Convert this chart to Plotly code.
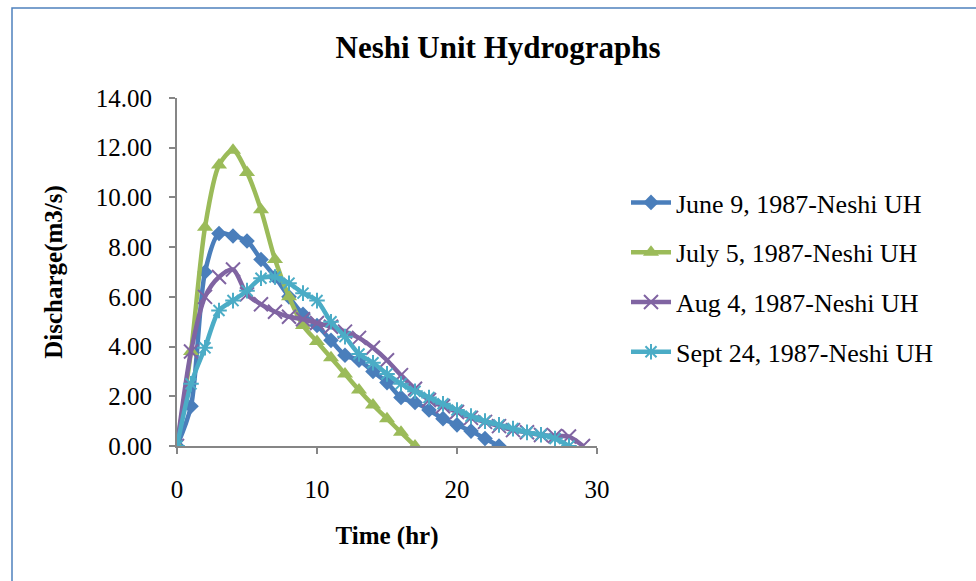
import plotly.graph_objects as go

# ---- data ----
title_text = "Neshi Unit Hydrographs"
x_title = "Time (hr)"
y_title = "Discharge(m3/s)"

names = ["June 9, 1987-Neshi UH", "July 5, 1987-Neshi UH",
         "Aug 4, 1987-Neshi UH", "Sept 24, 1987-Neshi UH"]

june_t = list(range(0, 24))
june_q = [0, 1.6, 7.0, 8.55, 8.45, 8.25, 7.5, 6.8, 6.0, 5.3, 4.85, 4.25, 3.65,
          3.45, 3.0, 2.55, 1.95, 1.75, 1.45, 1.1, 0.85, 0.6, 0.3, 0]

july_t = list(range(0, 18))
july_q = [0, 3.8, 8.8, 11.3, 11.9, 11.0, 9.5, 7.5, 6.0, 4.85, 4.2, 3.55, 2.9,
          2.25, 1.65, 1.1, 0.55, 0]

aug_t = list(range(0, 30))
aug_q = [0, 3.8, 6.0, 6.8, 7.1, 6.1, 5.7, 5.4, 5.2, 5.1, 4.95, 4.8, 4.6, 4.35,
         3.95, 3.45, 2.85, 2.3, 1.85, 1.6, 1.37, 1.13, 0.97, 0.8, 0.64, 0.55,
         0.44, 0.4, 0.38, 0]

sept_t = list(range(0, 29))
sept_q = [0, 2.5, 3.95, 5.45, 5.85, 6.25, 6.75, 6.8, 6.55, 6.15, 5.85, 5.0,
          4.4, 3.7, 3.35, 2.9, 2.5, 2.2, 1.95, 1.7, 1.45, 1.2, 1.0, 0.85, 0.7,
          0.55, 0.45, 0.3, 0]

y_ticks = [0, 2, 4, 6, 8, 10, 12, 14]
x_ticks = [0, 10, 20, 30]

colors = ["#4A7EBB", "#9BBB59", "#8064A2", "#4BACC6"]
symbols = ["diamond", "triangle-up", "x-thin-open", "asterisk-open"]
msizes = [12, 14, 14, 13]

series = [(june_t, june_q), (july_t, july_q), (aug_t, aug_q), (sept_t, sept_q)]

FONT = "Liberation Serif, Times New Roman, serif"

fig = go.Figure()
for i, ((t, q), name) in enumerate(zip(series, names)):
    mline = dict(width=2, color=colors[i]) if "open" in symbols[i] else dict(width=0)
    fig.add_trace(go.Scatter(
        x=t, y=q, name=name, mode="lines+markers",
        line=dict(color=colors[i], width=4.5, shape="spline", smoothing=0.8),
        marker=dict(symbol=symbols[i], size=msizes[i], color=colors[i], line=mline),
        legendgroup=f"g{i}",
    ))

W, H = 976, 581
L, R, T, B = 177, 379, 98, 135
pw, ph = W - L - R, H - T - B

def px_x(px):
    return (px - L) / pw

def px_y(py):
    return (H - B - py) / ph

fig.update_layout(
    width=W, height=H,
    margin=dict(l=L, r=R, t=T, b=B),
    paper_bgcolor="white", plot_bgcolor="white",
    font=dict(family=FONT, color="black", size=24),
    title=dict(text=f"<b>{title_text}</b>", xref="container", x=498 / W,
               xanchor="center", y=1 - 47 / H, yanchor="middle",
               font=dict(family=FONT, size=31, color="black")),
    xaxis=dict(range=[0, 30], tickvals=x_ticks, showgrid=False, zeroline=False,
               showline=True, linecolor="#868686", linewidth=2,
               ticks="outside", ticklen=6, tickcolor="#868686", tickwidth=2,
               tickfont=dict(size=25), ticklabelstandoff=14,
               title=dict(text=f"<b>{x_title}</b>", font=dict(size=25), standoff=24)),
    yaxis=dict(range=[0, 14], tickvals=y_ticks, tickformat=".2f", showgrid=False,
               zeroline=False, showline=True, linecolor="#868686", linewidth=2,
               ticks="outside", ticklen=6, tickcolor="#868686", tickwidth=2,
               tickfont=dict(size=25), ticklabelstandoff=12,
               title=dict(text=f"<b>{y_title}</b>", font=dict(size=25), standoff=26)),
    legend=dict(x=px_x(626), xanchor="left", y=px_y(179), yanchor="top",
                font=dict(size=26, family=FONT), tracegroupgap=13,
                traceorder="grouped", bgcolor="rgba(0,0,0,0)", itemwidth=40),
    showlegend=True,
)

# outer chart border (left and top edges visible)
fig.add_shape(type="rect", xref="paper", yref="paper",
              x0=px_x(12), y0=px_y(600), x1=px_x(990), y1=px_y(8),
              line=dict(color="#4F81BD", width=1.5), fillcolor="rgba(0,0,0,0)",
              layer="below")

fig.write_html("out.html")
